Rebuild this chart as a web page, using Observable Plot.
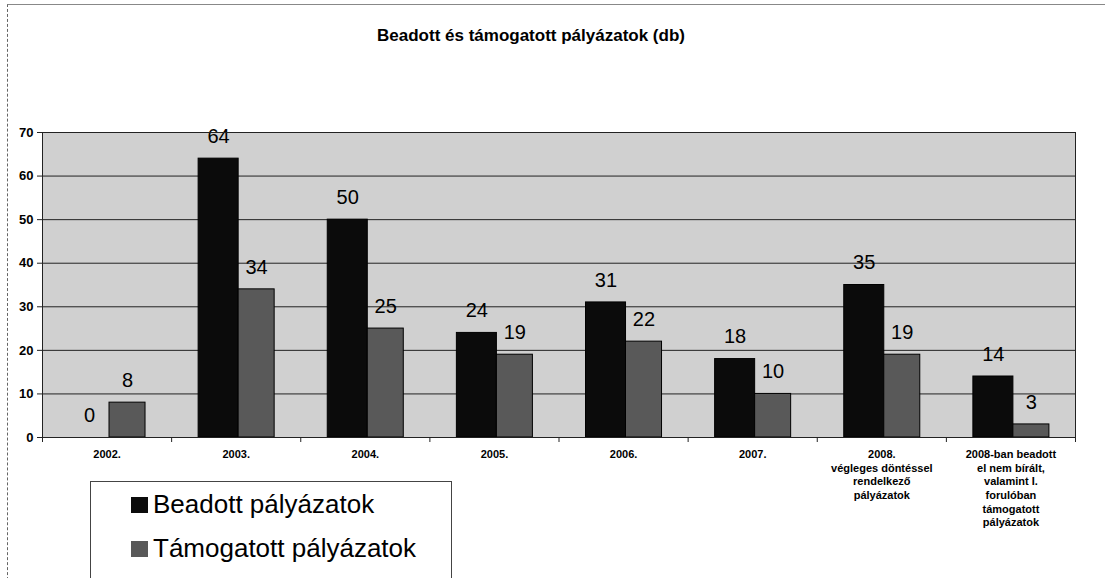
<!DOCTYPE html>
<html>
<head>
<meta charset="utf-8">
<script src="https://cdn.jsdelivr.net/npm/d3@7"></script>
<script src="https://cdn.jsdelivr.net/npm/@observablehq/plot@0.6"></script>
<style>
  body { margin: 0; background: #fff; font-family: "Liberation Sans", Arial, sans-serif; }
  #wrap { position: relative; width: 1105px; height: 578px; overflow: hidden; background: #fff; }
  #chart { position: absolute; left: 0; top: 0; }
  #outer { position: absolute; left: 7px; top: 4px; width: 1110px; height: 600px; border-left: 1px dashed #666; border-top: 1px solid #888; pointer-events: none; }
  #title { position: absolute; left: 0; width: 1062px; top: 26px; text-align: center; font-weight: bold; font-size: 17px; color: #000; }
  #legend { position: absolute; left: 90px; top: 481px; width: 360px; height: 140px; border: 1px solid #444; background: #fff; }
  .item { position: absolute; left: 40px; font-size: 26px; line-height: 29px; white-space: nowrap; color: #000; }
  .sw { display: inline-block; width: 17px; height: 16px; margin-right: 5px; border: 0; box-sizing: border-box; }
</style>
</head>
<body>
<div id="wrap">
  <div id="chart"></div>
  <div id="outer"></div>
  <div id="title"></div>
  <div id="legend"></div>
</div>
<script>
// ---- data ----
const titleText = "Beadott és támogatott pályázatok (db)";
const categories = [
  "2002.",
  "2003.",
  "2004.",
  "2005.",
  "2006.",
  "2007.",
  "2008.\nvégleges döntéssel\nrendelkező\npályázatok",
  "2008-ban beadott\nel nem bírált,\nvalamint I.\nforulóban\ntámogatott\npályázatok"
];
const beadott = [0, 64, 50, 24, 31, 18, 35, 14];
const tamogatott = [8, 34, 25, 19, 22, 10, 19, 3];
const seriesNames = ["Beadott pályázatok", "Támogatott pályázatok"];
const seriesColors = ["#0b0b0b", "#595959"];
const yTicks = [0, 10, 20, 30, 40, 50, 60, 70];

// ---- table built from arrays ----
const rows = categories.map((c, i) => ({category: c, beadott: beadott[i], tamogatott: tamogatott[i]}));

const font = '"Liberation Sans", Arial, sans-serif';

const chart = Plot.plot({
  width: 1105,
  height: 578,
  marginLeft: 42,
  marginRight: 30,
  marginTop: 132,
  marginBottom: 141,
  style: {fontFamily: font, background: "transparent", color: "#000"},
  x: {domain: categories, padding: 0, round: false, label: null},
  y: {domain: [0, 70], label: null},
  marks: [
    Plot.frame({fill: "#d0d0d0"}),
    Plot.ruleY(yTicks.filter(v => v > 0), {stroke: "#222", strokeWidth: 1}),
    Plot.barY(rows.filter(d => d.beadott > 0), {
      x: "category", y: "beadott", fill: seriesColors[0], stroke: "#000", strokeWidth: 1,
      insetLeft: 27, insetRight: 62.1
    }),
    Plot.barY(rows.filter(d => d.tamogatott > 0), {
      x: "category", y: "tamogatott", fill: seriesColors[1], stroke: "#000", strokeWidth: 1,
      insetLeft: 67, insetRight: 26.1
    }),
    Plot.text(rows, {
      x: "category", y: "beadott", text: d => String(d.beadott),
      dx: -17.6, dy: -22, fontSize: 20, fill: "#000", fontFamily: font
    }),
    Plot.text(rows, {
      x: "category", y: "tamogatott", text: d => String(d.tamogatott),
      dx: 20.4, dy: -22, fontSize: 20, fill: "#000", fontFamily: font
    }),
    Plot.frame({stroke: "#222", strokeWidth: 1}),
    Plot.ruleX(categories, {x: d => d, dx: -64.56, insetTop: 305, insetBottom: -5, stroke: "#222"}),
    Plot.ruleX(categories.slice(-1), {x: d => d, dx: 64.56, insetTop: 305, insetBottom: -5, stroke: "#222"}),
    Plot.axisY({
      ticks: yTicks, tickSize: 5, tickPadding: 4, fontSize: 13, fontWeight: "bold",
      label: null, stroke: "#222"
    }),
    Plot.axisX({
      tickSize: 0, tickPadding: 11, fontSize: 11, fontWeight: "bold", lineHeight: 1.24,
      label: null
    })
  ]
});
document.getElementById("chart").appendChild(chart);

document.getElementById("title").textContent = titleText;

const legend = document.getElementById("legend");
seriesNames.forEach((name, i) => {
  const item = document.createElement("div");
  item.className = "item";
  item.style.top = (8 + i * 44) + "px";
  const sw = document.createElement("span");
  sw.className = "sw";
  sw.style.background = seriesColors[i];
  item.appendChild(sw);
  item.appendChild(document.createTextNode(name));
  legend.appendChild(item);
});
</script>
</body>
</html>
